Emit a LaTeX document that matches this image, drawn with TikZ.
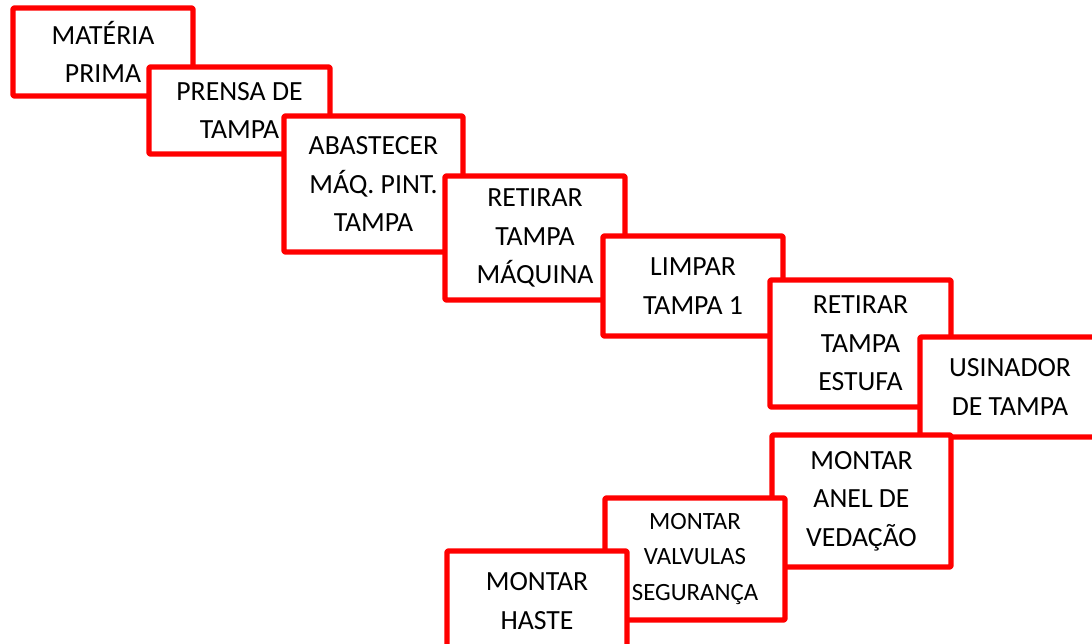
\documentclass[tikz,border=0pt]{standalone}
\usepackage{fontspec}
\setmainfont{Carlito}
\begin{document}
\begin{tikzpicture}[x=0.75pt,y=-0.75pt,
  box/.style={draw=red, line width=4pt, fill=white, line join=round, rounded corners=0.8pt,
    inner sep=0pt, align=center, font=\fontsize{20.8}{29}\selectfont},
  small/.style={font=\fontsize{18.6}{26.3}\selectfont}]
\useasboundingbox (0,0) rectangle (1092,643);
\node[box, minimum width=180*0.75pt, minimum height=88*0.75pt] (b1) at (103,52) {MATÉRIA\\PRIMA};
\node[box, minimum width=181*0.75pt, minimum height=87*0.75pt] (b2) at (239.5,110.5) {PRENSA DE\\TAMPA};
\node[box, minimum width=179*0.75pt, minimum height=136*0.75pt] (b3) at (373.5,184) {ABASTECER\\MÁQ. PINT.\\TAMPA};
\node[box, minimum width=180*0.75pt, minimum height=124*0.75pt] (b4) at (535,238) {RETIRAR\\TAMPA\\MÁQUINA};
\node[box, minimum width=180*0.75pt, minimum height=100*0.75pt] (b5) at (693,286) {LIMPAR\\TAMPA 1};
\node[box, minimum width=181*0.75pt, minimum height=127*0.75pt] (b6) at (860.5,343.5) {RETIRAR\\TAMPA\\ESTUFA};
\node[box, minimum width=180*0.75pt, minimum height=100*0.75pt] (b7) at (1010,387) {USINADOR\\DE TAMPA};
\node[box, minimum width=179*0.75pt, minimum height=132*0.75pt] (b8) at (861.5,501) {MONTAR\\ANEL DE\\VEDAÇÃO};
\node[box, small, minimum width=180*0.75pt, minimum height=122*0.75pt] (b9) at (695,559) {MONTAR\\VALVULAS\\SEGURANÇA};
\node[box, minimum width=180*0.75pt, minimum height=100*0.75pt] (b10) at (537,601) {MONTAR\\HASTE};
\end{tikzpicture}
\end{document}
